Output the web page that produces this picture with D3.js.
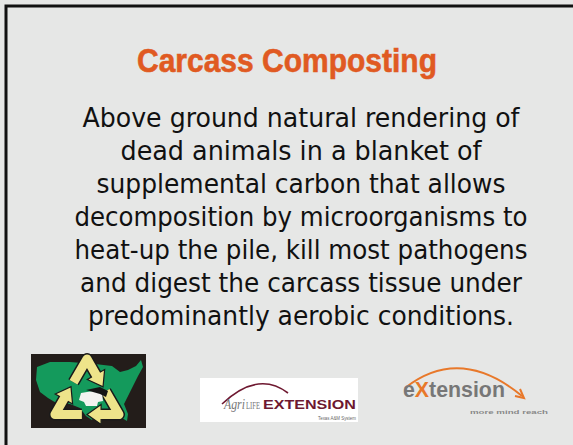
<!DOCTYPE html>
<html><head><meta charset="utf-8">
<script src="https://cdn.jsdelivr.net/npm/d3@7"></script>
<style>html,body{margin:0;padding:0;background:#e6e7e6;overflow:hidden}</style>
</head><body>
<script>
const title = "Carcass Composting";
const bodyLines = [
  "Above ground natural rendering of",
  "dead animals in a blanket of",
  "supplemental carbon that allows",
  "decomposition by microorganisms to",
  "heat-up the pile, kill most pathogens",
  "and digest the carcass tissue under",
  "predominantly aerobic conditions."
];
const lineWidths = [437, 361, 409, 453, 453, 442, 426];
const logoTexts = ["Agri", "LIFE", "EXTENSION", "Texas A&M System", "eXtension", "more mind reach"];

const W = 573, H = 445;
const svg = d3.select("body").append("svg").attr("width", W).attr("height", H);
svg.append("rect").attr("width", W).attr("height", H).attr("fill", "#e6e7e6");
svg.append("path").attr("d", "M6,445 V6 H573").attr("fill", "none").attr("stroke", "#111").attr("stroke-width", 3);

// text placed at (x,y) and horizontally scaled to a given width
function fitText(parent, str, x, y, width, attrs) {
  const t = parent.append("text").text(str);
  Object.entries(attrs).forEach(([k, v]) => t.attr(k, v));
  const len = t.node().getComputedTextLength();
  t.attr("transform", `translate(${x},${y}) scale(${width / len},1)`);
  return t;
}

svg.append("text").attr("x", 287).attr("y", 72).attr("text-anchor", "middle")
  .attr("font-family", "Liberation Sans, Arial, sans-serif").attr("font-weight", "bold")
  .attr("font-size", 34).attr("fill", "#e05a22").attr("stroke", "#e05a22").attr("stroke-width", 0.6)
  .attr("textLength", 300).attr("lengthAdjust", "spacingAndGlyphs").text(title);

const y = d3.scaleBand().domain(d3.range(bodyLines.length)).range([102, 333]);
svg.selectAll("text.body").data(bodyLines).join("text").attr("class", "body")
  .attr("x", 301).attr("y", (d, i) => y(i) + 25).attr("text-anchor", "middle")
  .attr("font-family", "DejaVu Sans, sans-serif").attr("font-size", 26).attr("fill", "#111")
  .attr("textLength", (d, i) => lineWidths[i]).attr("lengthAdjust", "spacingAndGlyphs")
  .text(d => d);

// ---- logo 1: US map + recycle ----
const g1 = svg.append("g");
g1.append("rect").attr("x", 31).attr("y", 354).attr("width", 115).attr("height", 74).attr("fill", "#231d1a");
const us = [[37,367],[50,362],[70,362],[95,364],[112,366],[120,372],[128,370],[136,366],[141,360],[143,367],[138,376],[134,384],[130,392],[127,398],[124,404],[128,414],[127,421],[122,418],[117,410],[108,410],[97,412],[92,420],[86,416],[80,408],[70,404],[58,404],[48,398],[40,392],[36,380]];
g1.append("path").attr("d", d3.line()(us) + "Z").attr("fill", "#149a5c");
const cx = 87, cy = 396, R = 37;
const V = d3.range(3).map(k => {
  const a = -Math.PI / 2 + k * 2 * Math.PI / 3;
  return [cx + R * Math.cos(a), cy + R * Math.sin(a)];
});
const lerp = (p, q, t) => [p[0] + (q[0] - p[0]) * t, p[1] + (q[1] - p[1]) * t];
for (let i = 0; i < 3; i++) {
  const A = V[i], B = V[(i + 1) % 3], C = V[(i + 2) % 3];
  const pts = [lerp(A, B, 0.58), B, lerp(B, C, 0.3)];
  const tip = lerp(B, C, 0.5), base = lerp(B, C, 0.28);
  const dx = C[0] - B[0], dy = C[1] - B[1], L = Math.hypot(dx, dy);
  const nx = -dy / L * 10, ny = dx / L * 10;
  const head = [[base[0] + nx, base[1] + ny], tip, [base[0] - nx, base[1] - ny]];
  g1.append("path").attr("d", d3.line()(pts)).attr("fill", "none").attr("stroke", "#1a1a1a").attr("stroke-width", 12).attr("stroke-linejoin", "round");
  g1.append("path").attr("d", d3.line()(head) + "Z").attr("fill", "#eee48a").attr("stroke", "#1a1a1a").attr("stroke-width", 1.2);
  g1.append("path").attr("d", d3.line()(pts)).attr("fill", "none").attr("stroke", "#eee48a").attr("stroke-width", 9).attr("stroke-linejoin", "round");
}
g1.append("path").attr("d", "M79,400 L81,393 L93,391 L102,393 L103,401 L98,402 L97,406 L86,406 L84,402 Z").attr("fill", "#f3f3f0");
g1.append("path").attr("d", "M86,390 L100,387 L108,391 L106,397 L100,394 Z").attr("fill", "#151515");

// ---- logo 2: AgriLIFE Extension ----
const g2 = svg.append("g");
g2.append("rect").attr("x", 200).attr("y", 378).attr("width", 158).attr("height", 44).attr("fill", "#ffffff");
g2.append("path").attr("d", "M222,404 Q258,370 288,393").attr("fill", "none").attr("stroke", "#6e1830").attr("stroke-width", 1.6);
fitText(g2, logoTexts[0], 224, 409, 21, {"font-family": "Liberation Serif, serif", "font-style": "italic", "font-size": 14, "fill": "#777"});
fitText(g2, logoTexts[1], 246, 409, 14, {"font-family": "Liberation Serif, serif", "font-size": 10, "fill": "#777"});
fitText(g2, logoTexts[2], 263, 409, 93, {"font-family": "Liberation Sans, Arial, sans-serif", "font-weight": "bold", "font-size": 13, "fill": "#6e1830"});
fitText(g2, logoTexts[3], 318, 420, 38, {"font-family": "Liberation Sans, Arial, sans-serif", "font-size": 5.5, "fill": "#666"});

// ---- logo 3: eXtension ----
const g3 = svg.append("g");
g3.append("path").attr("d", "M405,388 Q460,345 522,396").attr("fill", "none").attr("stroke", "#e8782a").attr("stroke-width", 2);
g3.append("path").attr("d", "M515,396 L524,398 L520,389").attr("fill", "none").attr("stroke", "#e8782a").attr("stroke-width", 2);
const ext = fitText(g3, logoTexts[4][0], 403, 397, 102, {"font-family": "Liberation Sans, Arial, sans-serif", "font-weight": "bold", "font-size": 22, "fill": "#777"});
ext.text(null);
ext.append("tspan").text(logoTexts[4][0]);
ext.append("tspan").attr("fill", "#e8782a").text(logoTexts[4][1]);
ext.append("tspan").text(logoTexts[4].slice(2));
const extLen = ext.node().getComputedTextLength();
ext.attr("transform", `translate(403,397) scale(${102 / extLen},1)`);
fitText(g3, logoTexts[5], 470, 414, 78, {"font-family": "Liberation Sans, Arial, sans-serif", "font-weight": "bold", "font-size": 6, "fill": "#888"});
</script>
</body></html>
